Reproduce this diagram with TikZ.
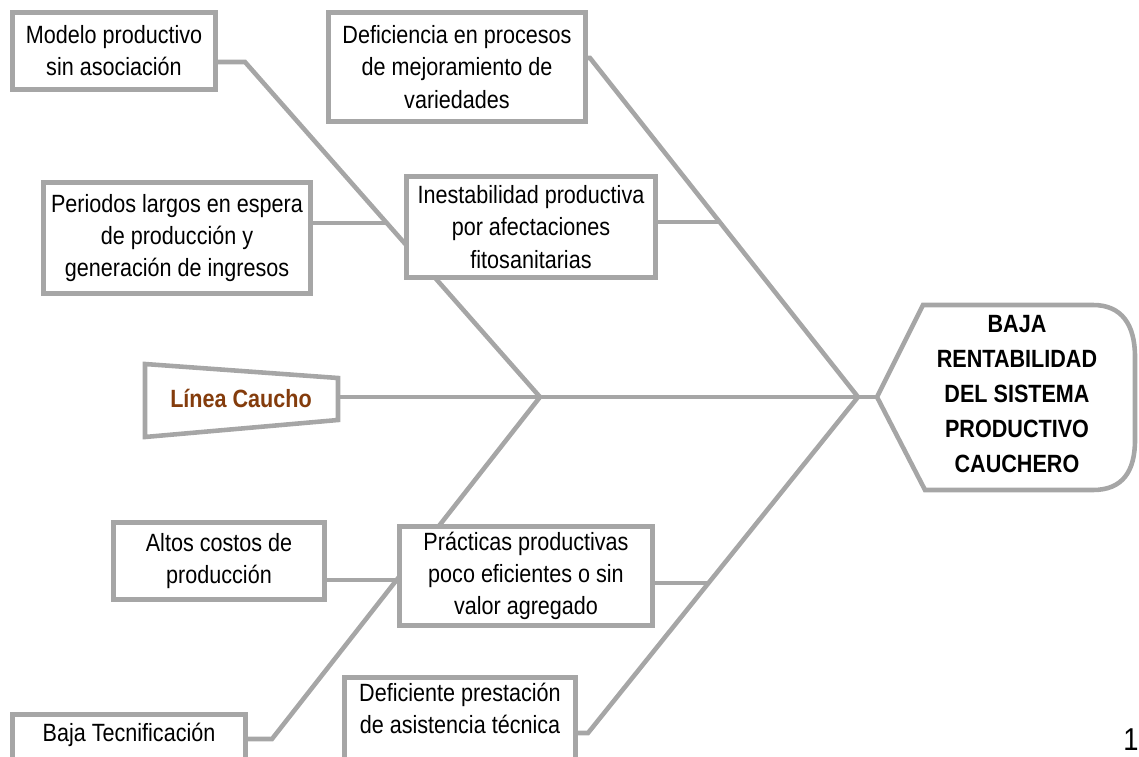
\documentclass[tikz,border=0pt]{standalone}
\usepackage{fontspec}
\setmainfont{Liberation Sans}[FakeStretch=0.865]
\usetikzlibrary{calc, backgrounds}
\definecolor{espinaGris}{HTML}{A6A6A6}
\definecolor{lineaCafe}{HTML}{843C0C}

\begin{document}
\begin{tikzpicture}[
    x=0.02cm, y=-0.02cm,
    font=\fontsize{14.2pt}{18.3pt}\selectfont,
    causa/.style={
        draw=espinaGris,
        line width=2.6pt,
        fill=white,
        align=center,
        inner sep=2pt
    },
    efectoTxt/.style={
        font=\fontsize{14.2pt}{19.8pt}\selectfont\bfseries,
        align=center
    },
    lineaTxt/.style={
        font=\fontsize{14.2pt}{18.3pt}\selectfont\bfseries,
        text=lineaCafe
    },
    hueso/.style={draw=espinaGris, line width=2.6pt},
]
\useasboundingbox (0,0) rectangle (1139,757);
\clip (0,0) rectangle (1139,757);

\node[causa, minimum width=4.07cm, minimum height=1.55cm] (modelo) at (114,51)
    {Modelo productivo\\sin asociación};
\node[causa, minimum width=5.15cm, minimum height=2.19cm] (mejora) at (457,67)
    {Deficiencia en procesos\\de mejoramiento de\\variedades};
\node[causa, minimum width=5.33cm, minimum height=2.23cm] (espera) at (177,238)
    {Periodos largos en espera\\de producción y\\generación de ingresos};
\node[causa, minimum width=4.97cm, minimum height=2.01cm] (fito) at (531,227)
    {Inestabilidad productiva\\por afectaciones\\fitosanitarias};
\node[causa, minimum width=4.21cm, minimum height=1.55cm] (costos) at (219,561)
    {Altos costos de\\producción};
\node[causa, minimum width=5.07cm, minimum height=1.97cm] (practicas) at (526,576)
    {Prácticas productivas\\poco eficientes o sin\\valor agregado};
\node[causa, anchor=north, minimum width=4.67cm, inner ysep=0pt,
    text height=15.4pt, text depth=30pt] (tecnif) at (129,712)
    {Baja Tecnificación};
\node[causa, anchor=north, minimum width=4.63cm, inner ysep=0pt,
    text height=31.9pt, text depth=30pt] (asistencia) at (460,675)
    {Deficiente prestación\\de asistencia técnica};

\node[lineaTxt] (linea) at (241,398) {Línea Caucho};
\node[efectoTxt] (efecto) at (1017,394)
    {BAJA\\RENTABILIDAD\\DEL SISTEMA\\PRODUCTIVO\\CAUCHERO};
\node[font=\fontsize{18pt}{20pt}\selectfont] (pagina) at (1131,740) {1};

\coordinate (cola) at (338,397);
\coordinate (punta) at (877,397);
\coordinate (nudoA) at (540,397);
\coordinate (nudoB) at (858,397);
\coordinate (codoA) at (245,62);
\coordinate (ramaB) at (387,223);
\coordinate (codoC) at (272,739);
\coordinate (ramaD) at (396,580);
\coordinate (codoE) at (590,58);
\coordinate (ramaF) at (719,222);
\coordinate (codoG) at (588,733);
\coordinate (ramaH) at (708,583);

\begin{scope}[on background layer]
    \draw[hueso] (145,364) -- (cola |- 0,378) -- (cola |- 0,420) -- (145,437) -- cycle;
    \draw[hueso] (cola) -- (punta);
    \draw[hueso] (punta) -- (923,305) -- (1093,305)
        .. controls (1122,305) and (1135,325) .. (1135,357) -- (1135,440)
        .. controls (1135,472) and (1122,490) .. (1093,490) -- (925,490) -- cycle;

    \draw[hueso] (modelo.east |- codoA) -- (codoA) -- (nudoA);
    \draw[hueso] (espera.east |- ramaB) -- (ramaB);
    \draw[hueso] (tecnif.east |- codoC) -- (codoC) -- (nudoA);
    \draw[hueso] (costos.east |- ramaD) -- (ramaD);

    \draw[hueso] (mejora.east |- codoE) -- (codoE) -- (nudoB);
    \draw[hueso] (fito.east |- ramaF) -- (ramaF);
    \draw[hueso] (asistencia.east |- codoG) -- (codoG) -- (nudoB);
    \draw[hueso] (practicas.east |- ramaH) -- (ramaH);
\end{scope}
\end{tikzpicture}
\end{document}
